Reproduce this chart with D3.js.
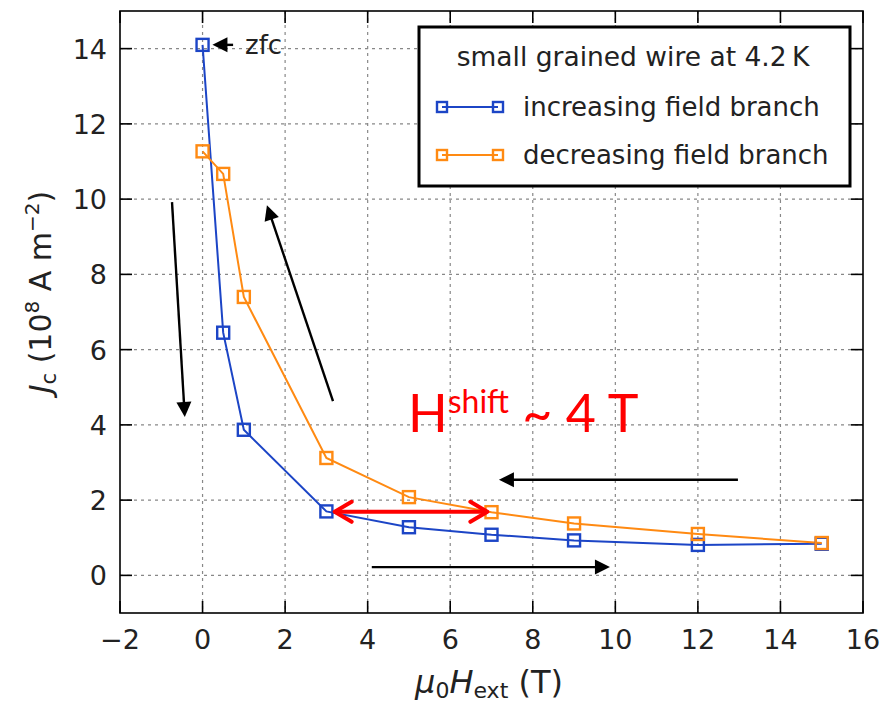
<!DOCTYPE html>
<html>
<head>
<meta charset="utf-8">
<script src="https://cdn.jsdelivr.net/npm/d3@7"></script>
<style>
  body { margin: 0; background: #fff; }
  text { font-family: "DejaVu Sans", sans-serif; }
</style>
</head>
<body>
<div id="chart"></div>
<script>
// data
var field_up = [0, 0.5, 1, 3, 5, 7, 9, 12, 15];
var jc_up = [14.1, 6.45, 3.87, 1.7, 1.28, 1.08, 0.93, 0.81, 0.84];
var field_down = [0, 0.5, 1, 3, 5, 7, 9, 12, 15];
var jc_down = [11.27, 10.67, 7.4, 3.12, 2.08, 1.68, 1.38, 1.1, 0.86];
var x_ticks = [-2, 0, 2, 4, 6, 8, 10, 12, 14, 16];
var y_ticks = [0, 2, 4, 6, 8, 10, 12, 14];

var chart_width = 884;
var chart_height = 705;
var blue = '#1c45c6';
var orange = '#ff8a12';

var svg = d3.select('#chart')
    .append('svg')
    .attr('width', chart_width)
    .attr('height', chart_height);

var x_scale = d3.scaleLinear()
    .domain([-2, 16])
    .range([120, 863]);

var y_scale = d3.scaleLinear()
    .domain([-1, 15])
    .range([613, 11]);

// grid
var grid = svg.append('g');
grid.selectAll('.gx')
    .data(x_ticks.slice(1, -1))
    .enter()
    .append('line')
    .attr('x1', function (d) { return x_scale(d); })
    .attr('x2', function (d) { return x_scale(d); })
    .attr('y1', y_scale(15))
    .attr('y2', y_scale(-1));
grid.selectAll('.gy')
    .data(y_ticks)
    .enter()
    .append('line')
    .attr('x1', x_scale(-2))
    .attr('x2', x_scale(16))
    .attr('y1', function (d) { return y_scale(d); })
    .attr('y2', function (d) { return y_scale(d); });
grid.selectAll('line')
    .attr('stroke', '#888')
    .attr('stroke-width', 1.2)
    .attr('stroke-dasharray', '3,4');

// frame + inward ticks on all sides
var tick_len = 12;
var axes = svg.append('g').attr('stroke', '#000').attr('stroke-width', 1.6);
axes.append('rect')
    .attr('x', x_scale(-2)).attr('y', y_scale(15))
    .attr('width', x_scale(16) - x_scale(-2))
    .attr('height', y_scale(-1) - y_scale(15))
    .attr('fill', 'none');
x_ticks.forEach(function (t) {
    axes.append('line').attr('x1', x_scale(t)).attr('x2', x_scale(t))
        .attr('y1', y_scale(-1)).attr('y2', y_scale(-1) - tick_len);
    axes.append('line').attr('x1', x_scale(t)).attr('x2', x_scale(t))
        .attr('y1', y_scale(15)).attr('y2', y_scale(15) + tick_len);
});
y_ticks.forEach(function (t) {
    axes.append('line').attr('x1', x_scale(-2)).attr('x2', x_scale(-2) + tick_len)
        .attr('y1', y_scale(t)).attr('y2', y_scale(t));
    axes.append('line').attr('x1', x_scale(16)).attr('x2', x_scale(16) - tick_len)
        .attr('y1', y_scale(t)).attr('y2', y_scale(t));
});

// tick labels
svg.selectAll('.xl')
    .data(x_ticks)
    .enter()
    .append('text')
    .attr('x', function (d) { return x_scale(d); })
    .attr('y', 649)
    .attr('text-anchor', 'middle')
    .attr('font-size', 27)
    .attr('fill', '#222')
    .text(function (d) { return d < 0 ? '\u2212' + Math.abs(d) : d; });
svg.selectAll('.yl')
    .data(y_ticks)
    .enter()
    .append('text')
    .attr('x', 107)
    .attr('y', function (d) { return y_scale(d) + 10; })
    .attr('text-anchor', 'end')
    .attr('font-size', 27)
    .attr('fill', '#222')
    .text(function (d) { return d; });

// axis titles
var xt = svg.append('text')
    .attr('x', 489).attr('y', 693)
    .attr('text-anchor', 'middle')
    .attr('font-size', 32)
    .attr('fill', '#222');
xt.append('tspan').attr('font-style', 'italic').text('\u03bc');
xt.append('tspan').attr('font-size', 22).attr('dy', 5).text('0');
xt.append('tspan').attr('font-style', 'italic').attr('dy', -5).text('H');
xt.append('tspan').attr('font-size', 22).attr('dy', 5).text('ext');
xt.append('tspan').attr('dy', -5).text(' (T)');

var yt = svg.append('text')
    .attr('transform', 'translate(51,292) rotate(-90)')
    .attr('text-anchor', 'middle')
    .attr('font-size', 30)
    .attr('fill', '#222');
yt.append('tspan').attr('font-style', 'italic').text('J');
yt.append('tspan').attr('font-size', 21).attr('dy', 5).text('c');
yt.append('tspan').attr('dy', -5).text(' (10');
yt.append('tspan').attr('font-size', 20).attr('dy', -12).text('8');
yt.append('tspan').attr('dy', 12).text(' A m');
yt.append('tspan').attr('font-size', 20).attr('dy', -12).text('\u22122');
yt.append('tspan').attr('dy', 12).text(')');

// series
var line = d3.line()
    .x(function (d) { return x_scale(d[0]); })
    .y(function (d) { return y_scale(d[1]); });

var series = [
    { x: field_up, y: jc_up, color: blue },
    { x: field_down, y: jc_down, color: orange }
];

series.forEach(function (s) {
    var pts = d3.zip(s.x, s.y);
    svg.append('path')
        .datum(pts)
        .attr('d', line)
        .attr('fill', 'none')
        .attr('stroke', s.color)
        .attr('stroke-width', 2);
});
series.forEach(function (s) {
    var pts = d3.zip(s.x, s.y);
    svg.selectAll(null)
        .data(pts)
        .enter()
        .append('rect')
        .attr('x', function (d) { return x_scale(d[0]) - 6; })
        .attr('y', function (d) { return y_scale(d[1]) - 6; })
        .attr('width', 12)
        .attr('height', 12)
        .attr('fill', 'none')
        .attr('stroke', s.color)
        .attr('stroke-width', 2.4);
});

// arrow helper: head drawn at pixel tip (x2,y2)
function head_points(x1, y1, x2, y2, len, half) {
    var a = Math.atan2(y2 - y1, x2 - x1);
    var bx = x2 - len * Math.cos(a), by = y2 - len * Math.sin(a);
    var px = -Math.sin(a) * half, py = Math.cos(a) * half;
    return [[bx + px, by + py], [x2, y2], [bx - px, by - py]];
}

// black arrows (tail -> tip, data units)
var arrows = [
    [[-0.74, 9.92], [-0.43, 4.21]],
    [[3.16, 4.63], [1.56, 9.84]],
    [[12.97, 2.54], [7.18, 2.54]],
    [[4.1, 0.22], [9.87, 0.22]],
    [[0.74, 14.1], [0.24, 14.1]]
];
arrows.forEach(function (d) {
    var x1 = x_scale(d[0][0]), y1 = y_scale(d[0][1]);
    var x2 = x_scale(d[1][0]), y2 = y_scale(d[1][1]);
    var hp = head_points(x1, y1, x2, y2, 15, 7.5);
    var a = Math.atan2(y2 - y1, x2 - x1);
    svg.append('line')
        .attr('x1', x1).attr('y1', y1)
        .attr('x2', x2 - 10 * Math.cos(a)).attr('y2', y2 - 10 * Math.sin(a))
        .attr('stroke', '#000')
        .attr('stroke-width', 2.4);
    svg.append('path')
        .attr('d', 'M' + hp.join('L') + 'Z')
        .attr('fill', '#000');
});

svg.append('text')
    .attr('x', x_scale(1.03)).attr('y', y_scale(14.1) + 9)
    .attr('font-size', 26)
    .attr('fill', '#222')
    .text('zfc');

// red shift arrow
var rx1 = x_scale(3.2), rx2 = x_scale(6.9), ry = y_scale(1.69);
svg.append('line')
    .attr('x1', rx1 + 2).attr('y1', ry)
    .attr('x2', rx2 - 2).attr('y2', ry)
    .attr('stroke', '#ff0000')
    .attr('stroke-width', 4);
[[rx2 - 20, rx2], [rx1 + 20, rx1]].forEach(function (p) {
    var hp = head_points(p[0], ry, p[1], ry, 17, 10);
    svg.append('path')
        .attr('d', 'M' + hp.join('L'))
        .attr('fill', 'none')
        .attr('stroke', '#ff0000')
        .attr('stroke-width', 4)
        .attr('stroke-linecap', 'round')
        .attr('stroke-linejoin', 'round');
});

var ht = svg.append('text')
    .attr('x', 408).attr('y', 432)
    .style('font-family', 'Lato, sans-serif')
    .attr('font-size', 52)
    .attr('fill', '#ff0000');
ht.append('tspan').text('H');
ht.append('tspan').attr('font-size', 32).attr('dy', -19).text('shift');
ht.append('tspan').attr('dy', 19).text(' ~ 4 T');

// legend
var lg = svg.append('g');
lg.append('rect')
    .attr('x', 419).attr('y', 27)
    .attr('width', 431).attr('height', 159)
    .attr('fill', '#fff')
    .attr('stroke', '#000')
    .attr('stroke-width', 3);
lg.append('text')
    .attr('x', 633).attr('y', 66)
    .attr('text-anchor', 'middle')
    .attr('font-size', 26.5)
    .attr('fill', '#222')
    .text('small grained wire at 4.2\u2009K');
var legend_items = [
    { label: 'increasing field branch', color: blue, y: 107 },
    { label: 'decreasing field branch', color: orange, y: 155 }
];
legend_items.forEach(function (d) {
    lg.append('line')
        .attr('x1', 442).attr('x2', 498)
        .attr('y1', d.y).attr('y2', d.y)
        .attr('stroke', d.color).attr('stroke-width', 2);
    [442, 498].forEach(function (cx) {
        lg.append('rect')
            .attr('x', cx - 5).attr('y', d.y - 5)
            .attr('width', 10).attr('height', 10)
            .attr('fill', 'none')
            .attr('stroke', d.color)
            .attr('stroke-width', 2.4);
    });
    lg.append('text')
        .attr('x', 523).attr('y', d.y + 9)
        .attr('font-size', 26)
        .attr('fill', '#222')
        .text(d.label);
});
</script>
</body>
</html>
